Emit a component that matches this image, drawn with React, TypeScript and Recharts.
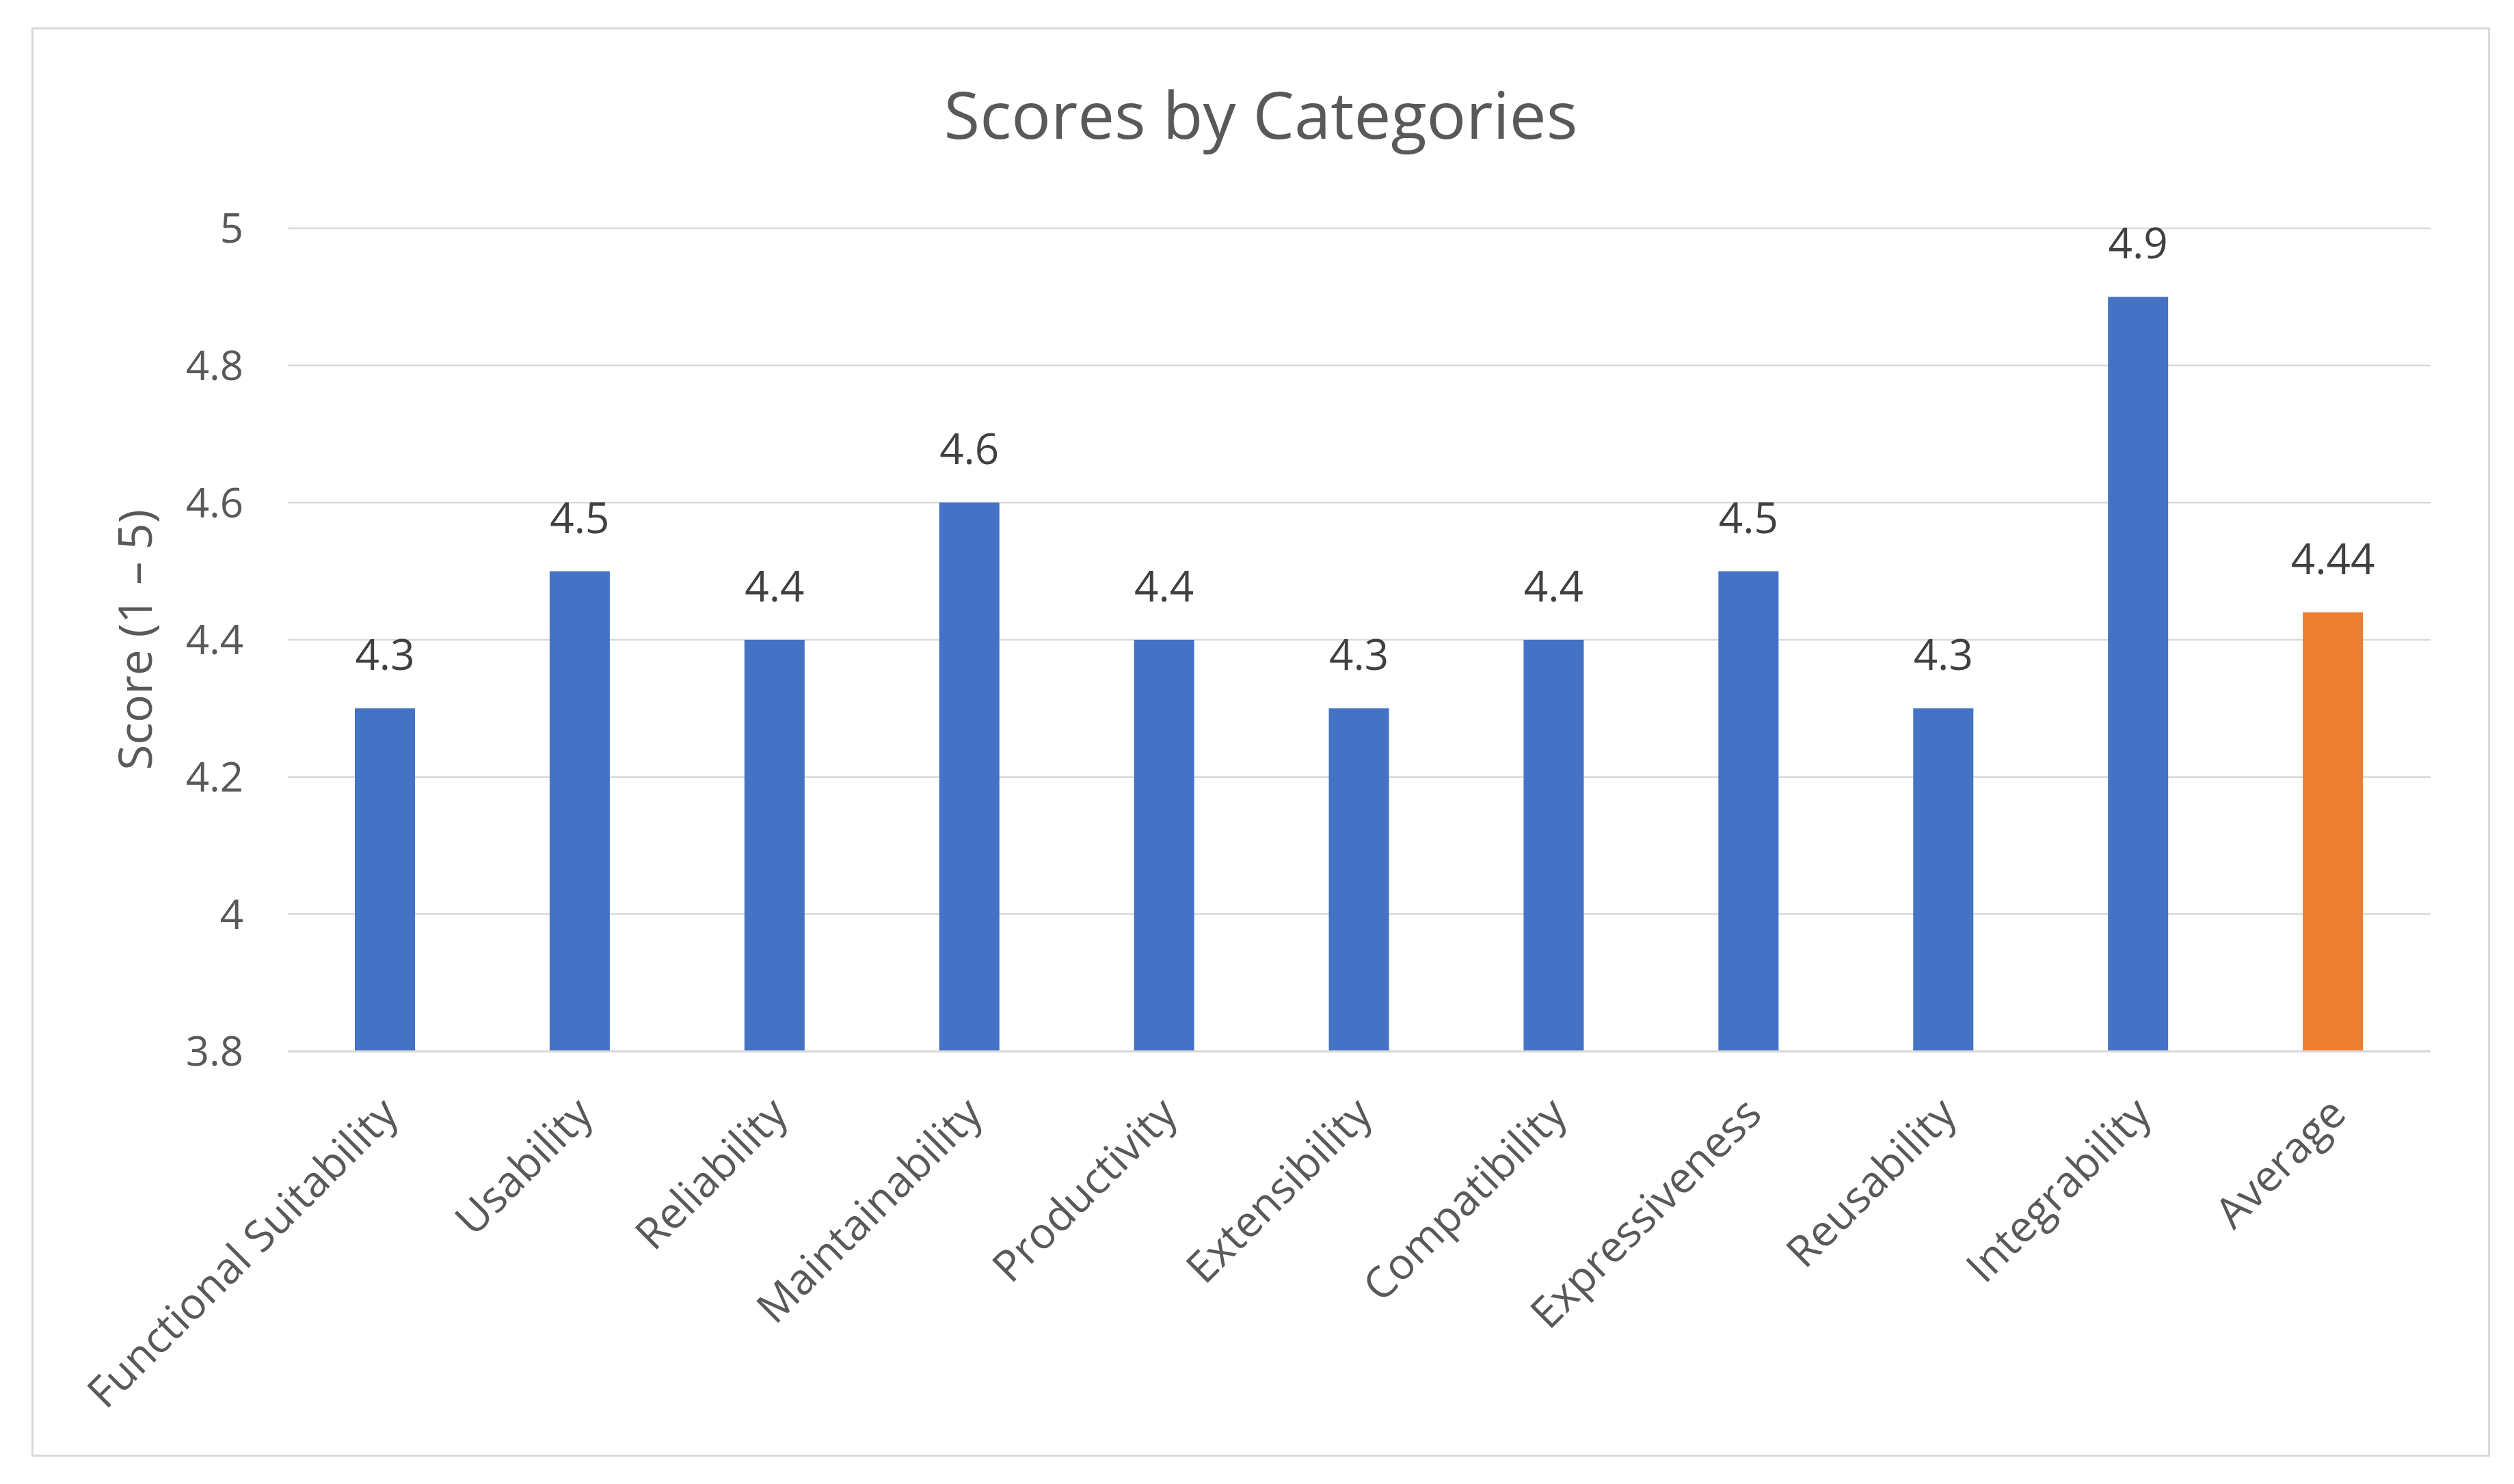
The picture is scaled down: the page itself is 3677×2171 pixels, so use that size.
import { BarChart, Bar, XAxis, YAxis, CartesianGrid, Cell, LabelList } from "recharts";

// --- data ---
const categories = [
  "Functional Suitability",
  "Usability",
  "Reliability",
  "Maintainability",
  "Productivity",
  "Extensibility",
  "Compatibility",
  "Expressiveness",
  "Reusability",
  "Integrability",
  "Average",
];
const scores = [4.3, 4.5, 4.4, 4.6, 4.4, 4.3, 4.4, 4.5, 4.3, 4.9, 4.44];
const yTicks = [3.8, 4, 4.2, 4.4, 4.6, 4.8, 5];

const BLUE = "#4472C4";
const ORANGE = "#ED7D31";
const FONT = "'Open Sans', sans-serif";

const data = categories.map((name, i) => ({ name, score: scores[i] }));

// rotated category label, text ends at the tick
const XTick = ({ x, y, payload }: any) => (
  <g transform={`translate(${x + 22},${y + 95})`}>
    <text textAnchor="end" transform="rotate(-45)" fill="#595959" fontSize={63} fontFamily={FONT}>
      {payload.value}
    </text>
  </g>
);

const YTitle = ({ viewBox }: any) => {
  const cx = viewBox.x + 1;
  const cy = viewBox.y + viewBox.height / 2;
  return (
    <text
      x={cx}
      y={cy}
      textAnchor="middle"
      transform={`rotate(-90, ${cx}, ${cy})`}
      fill="#595959"
      fontSize={68}
      fontFamily={FONT}
    >
      Score (1 – 5)
    </text>
  );
};

export default function App() {
  return (
    <div style={{ position: "absolute", left: 0, top: 0, width: 3677, height: 2171, background: "#fff" }}>
      <div
        style={{
          position: "absolute",
          left: 46,
          top: 40,
          width: 3596,
          height: 2091,
          border: "3px solid #d9d9d9",
          boxSizing: "border-box",
        }}
      />
      <div
        style={{
          position: "absolute",
          left: 46,
          width: 3596,
          top: 118,
          textAlign: "center",
          fontFamily: FONT,
          fontSize: 96,
          lineHeight: "96px",
          color: "#595959",
        }}
      >
        Scores by Categories
      </div>
      <div style={{ position: "absolute", left: 0, top: 0 }}>
        <BarChart
          width={3677}
          height={2171}
          data={data}
          margin={{ top: 334, right: 122, left: 221, bottom: 0 }}
          barSize={88}
        >
          <CartesianGrid vertical={false} stroke="#d9d9d9" strokeWidth={2.5} />
          <XAxis
            dataKey="name"
            interval={0}
            height={633}
            tickLine={false}
            tickSize={0}
            tickMargin={0}
            axisLine={{ stroke: "#d9d9d9", strokeWidth: 3 }}
            tick={<XTick />}
          />
          <YAxis
            type="number"
            domain={[3.8, 5]}
            ticks={yTicks}
            width={200}
            axisLine={false}
            tickLine={false}
            tickSize={0}
            tickMargin={65}
            tick={{ fill: "#595959", fontSize: 60, fontFamily: FONT }}
            label={{ content: <YTitle /> }}
          />
          <Bar dataKey="score" isAnimationActive={false}>
            {data.map((d, i) => (
              <Cell key={d.name} fill={d.name === "Average" ? ORANGE : BLUE} />
            ))}
            <LabelList
              dataKey="score"
              position="top"
              offset={56}
              fill="#404040"
              fontSize={62}
              fontFamily={FONT}
            />
          </Bar>
        </BarChart>
      </div>
    </div>
  );
}
